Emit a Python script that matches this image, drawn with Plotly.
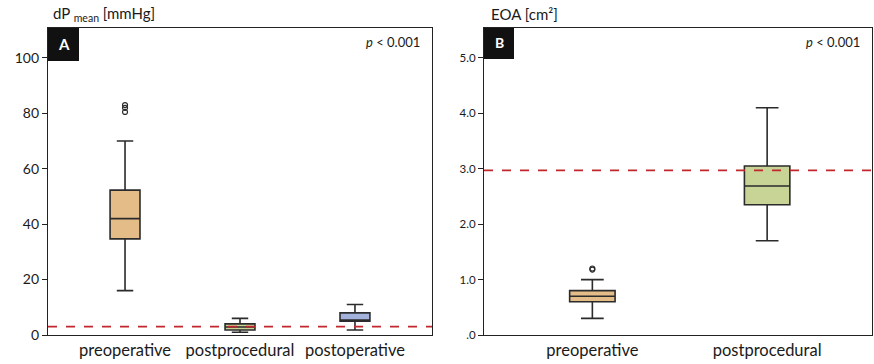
import plotly.graph_objects as go

# Panel A: dP mean [mmHg]
cats_a = ["preoperative", "postprocedural", "postoperative"]
a_lower = [16, 1, 1.8]
a_q1 = [34.7, 1.8, 5]
a_median = [42, 2.9, 5]
a_q3 = [52.3, 4.0, 8]
a_upper = [70, 6, 11]
a_colors = ["#E4BC88", "#C8D496", "#A3B2DB"]
a_outliers_y = [80.5, 82, 83]
a_ref = 3

# Panel B: EOA [cm²]
cats_b = ["preoperative", "postprocedural"]
b_lower = [0.3, 1.7]
b_q1 = [0.6, 2.35]
b_median = [0.7, 2.69]
b_q3 = [0.8, 3.05]
b_upper = [1.0, 4.1]
b_colors = ["#E4BC88", "#C8D496"]
b_outliers_y = [1.18, 1.2]
b_ref = 2.97
b_ticks = [0, 1, 2, 3, 4, 5]
b_ticktext = [".0", "1.0", "2.0", "3.0", "4.0", "5.0"]

FONT = "Lato"
LINE = "#2b2b2b"

fig = go.Figure()

for i, c in enumerate(cats_a):
    fig.add_trace(go.Box(
        x=[i], lowerfence=[a_lower[i]], q1=[a_q1[i]], median=[a_median[i]],
        q3=[a_q3[i]], upperfence=[a_upper[i]], width=0.26,
        fillcolor=a_colors[i], line=dict(color=LINE, width=1.6),
        whiskerwidth=0.55, boxpoints=False,
        xaxis="x", yaxis="y", showlegend=False, hoverinfo="skip"))
fig.add_trace(go.Scatter(
    x=[0] * len(a_outliers_y), y=a_outliers_y, mode="markers",
    marker=dict(symbol="circle-open", size=5, color=LINE, line=dict(width=1.2)),
    xaxis="x", yaxis="y", showlegend=False))

for i, c in enumerate(cats_b):
    fig.add_trace(go.Box(
        x=[i], lowerfence=[b_lower[i]], q1=[b_q1[i]], median=[b_median[i]],
        q3=[b_q3[i]], upperfence=[b_upper[i]], width=0.26,
        fillcolor=b_colors[i], line=dict(color=LINE, width=1.6),
        whiskerwidth=0.5, boxpoints=False,
        xaxis="x2", yaxis="y2", showlegend=False, hoverinfo="skip"))
fig.add_trace(go.Scatter(
    x=[0] * len(b_outliers_y), y=b_outliers_y, mode="markers",
    marker=dict(symbol="circle-open", size=5, color=LINE, line=dict(width=1.2)),
    xaxis="x2", yaxis="y2", showlegend=False))

ydom = [29 / 364, 336 / 364]
axis_common = dict(showgrid=False, zeroline=False, showline=True, linecolor="#222",
                   linewidth=1.2, mirror=True, automargin=False)

fig.update_layout(
    width=874, height=364, margin=dict(l=0, r=0, t=0, b=0),
    plot_bgcolor="white", paper_bgcolor="white",
    font=dict(family=FONT, color="#1a1a1a"),
    xaxis=dict(domain=[48 / 874, 432 / 874], range=[-0.67, 2.67],
               tickvals=[0, 1, 2], ticktext=cats_a, ticks="",
               tickfont=dict(size=16.5), anchor="y", **axis_common),
    yaxis=dict(domain=ydom, range=[0, 110.8], tickvals=[0, 20, 40, 60, 80, 100],
               ticks="outside", ticklen=5, tickcolor="#222",
               tickfont=dict(size=14), anchor="x", **axis_common),
    xaxis2=dict(domain=[484 / 874, 872 / 874], range=[-0.62, 1.6],
                tickvals=[0, 1], ticktext=cats_b, ticks="",
                tickfont=dict(size=16.5), anchor="y2", **axis_common),
    yaxis2=dict(domain=ydom, range=[0, 5.54], tickvals=b_ticks, ticktext=b_ticktext,
                ticks="outside", ticklen=5, tickcolor="#222",
                tickfont=dict(size=11.5), anchor="x2", **axis_common),
)

# reference dashed lines
fig.add_shape(type="line", xref="x domain", yref="y", x0=0, x1=1, y0=a_ref, y1=a_ref,
              line=dict(color="#C1272D", width=1.8, dash="dash"))
fig.add_shape(type="line", xref="x2 domain", yref="y2", x0=0, x1=1, y0=b_ref, y1=b_ref,
              line=dict(color="#C1272D", width=1.8, dash="dash"))

# panel label boxes
fig.add_shape(type="rect", xref="x domain", yref="y domain", x0=0, x1=31 / 384,
              y0=1 - 33 / 307, y1=1, fillcolor="#111", line=dict(width=0))
fig.add_shape(type="rect", xref="x2 domain", yref="y2 domain", x0=0, x1=30 / 388,
              y0=1 - 31 / 307, y1=1, fillcolor="#111", line=dict(width=0))

fig.add_annotation(xref="x domain", yref="y domain", x=15.5 / 384, y=1 - 16 / 307,
                   xanchor="center", yanchor="middle",
                   text="<b>A</b>", showarrow=False, font=dict(color="white", size=15))
fig.add_annotation(xref="x2 domain", yref="y2 domain", x=15 / 388, y=1 - 15 / 307,
                   xanchor="center", yanchor="middle",
                   text="<b>B</b>", showarrow=False, font=dict(color="white", size=14))

fig.add_annotation(xref="x domain", yref="y domain", x=1 - 10 / 384, y=1 - 14 / 307,
                   xanchor="right", yanchor="middle", text="<i>p</i> < 0.001",
                   showarrow=False, font=dict(size=13))
fig.add_annotation(xref="x2 domain", yref="y2 domain", x=1 - 10 / 388, y=1 - 14 / 307,
                   xanchor="right", yanchor="middle", text="<i>p</i> < 0.001",
                   showarrow=False, font=dict(size=13))

# axis titles at top-left
fig.add_annotation(xref="paper", yref="paper", x=51 / 874, y=1 - 14 / 364,
                   xanchor="left", yanchor="middle", text="dP <sub>mean</sub> [mmHg]",
                   showarrow=False, font=dict(size=15))
fig.add_annotation(xref="paper", yref="paper", x=489 / 874, y=1 - 14 / 364,
                   xanchor="left", yanchor="middle", text="EOA [cm²]", showarrow=False,
                   font=dict(size=15))

fig.write_html("out.html")
